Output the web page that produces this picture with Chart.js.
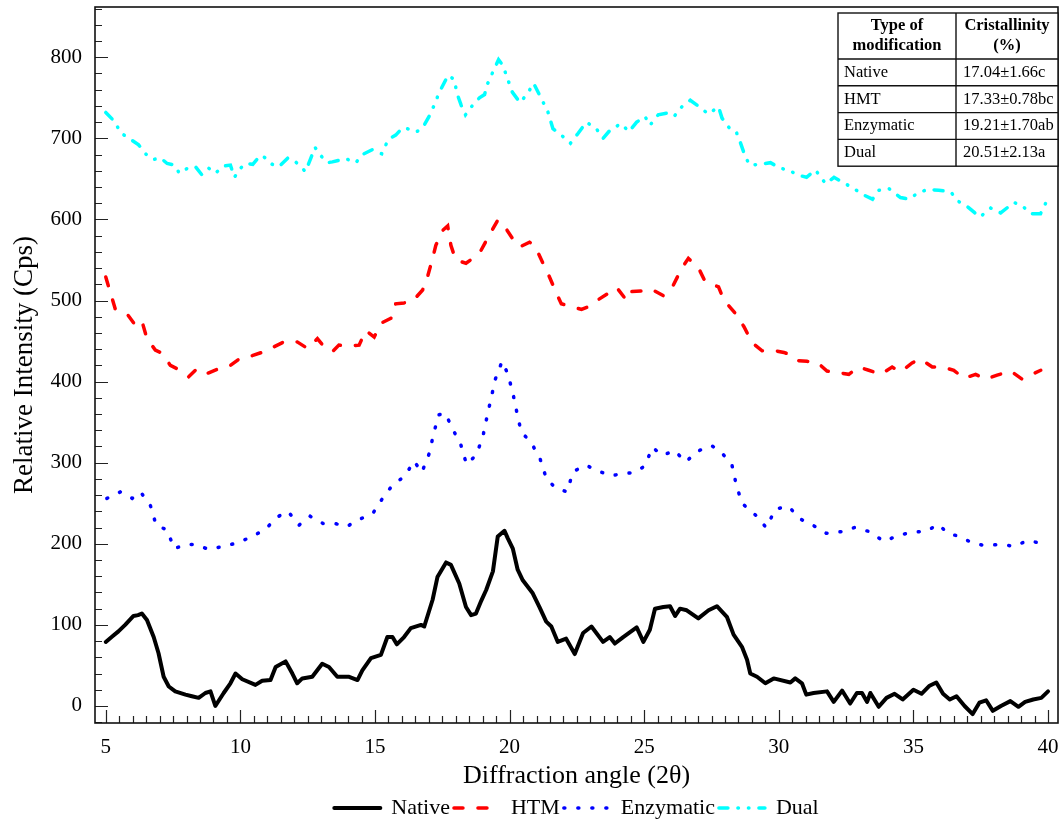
<!DOCTYPE html>
<html lang="en">

<head>
    <meta charset="UTF-8">
    <title>XRD patterns</title>
    <script src="https://cdn.jsdelivr.net/npm/chart.js"></script>
    <style>
        body { margin: 0; background: #fff; }
        #wrap { width: 1062px; height: 823px; }
    </style>
</head>

<body>
    <div id="wrap">
        <canvas id="myChart" width="1062" height="823"></canvas>
    </div>

    <script>
        // 2theta positions and intensities
        const nativeAngle = [5.00, 5.25, 5.47, 5.72, 6.03, 6.20, 6.34, 6.53, 6.78, 6.96, 7.15, 7.34, 7.58, 7.96, 8.20, 8.45, 8.70, 8.89, 9.07, 9.38,
            9.63, 9.82, 10.07, 10.56, 10.81, 11.12, 11.31, 11.68, 11.93, 12.11, 12.30, 12.67, 13.04, 13.29, 13.60, 14.04, 14.35, 14.53, 14.85, 15.22,
            15.46, 15.65, 15.81, 16.08, 16.33, 16.71, 16.83, 17.14, 17.32, 17.64, 17.82, 18.13, 18.38, 18.57, 18.75, 18.95, 19.13, 19.38, 19.56, 19.81,
            19.93, 20.12, 20.30, 20.49, 20.86, 21.11, 21.36, 21.55, 21.79, 22.10, 22.42, 22.73, 23.04, 23.47, 23.72, 23.91, 24.22, 24.72, 24.97, 25.21,
            25.40, 25.71, 25.96, 26.15, 26.33, 26.58, 27.01, 27.39, 27.70, 28.07, 28.32, 28.63, 28.82, 28.94, 29.19, 29.50, 29.81, 30.43, 30.61, 30.86,
            31.02, 31.29, 31.79, 32.04, 32.35, 32.65, 32.90, 33.09, 33.28, 33.40, 33.71, 34.00, 34.30, 34.60, 35.00, 35.30, 35.60, 35.85, 36.10, 36.35,
            36.60, 36.90, 37.20, 37.45, 37.70, 37.95, 38.25, 38.60, 38.90, 39.15, 39.45, 39.75, 40.00];
        const nativeIntensity = [79, 86, 92, 100, 111, 112, 114, 106, 85, 65, 36, 24, 18, 14, 12, 10, 16, 18, 0, 16,
            28, 40, 33, 26, 31, 32, 48, 55, 40, 28, 34, 36, 52, 48, 36, 36, 32, 44, 59, 63,
            85, 85, 76, 85, 96, 100, 98, 131, 159, 177, 174, 151, 122, 112, 114, 130, 143, 166, 209, 216,
            207, 194, 168, 155, 139, 122, 104, 98, 79, 83, 64, 90, 98, 79, 85, 77, 85, 97, 79, 94,
            120, 122, 123, 111, 120, 118, 108, 118, 123, 110, 88, 73, 57, 40, 36, 28, 34, 29, 34, 28,
            14, 16, 18, 5, 19, 3, 16, 16, 5, 16, -1, 10, 15, 8, 20, 15, 25, 29, 15, 8,
            12, 0, -10, 4, 7, -6, 0, 6, -1, 5, 8, 10, 18];

        const htmAngle = [5.00, 5.16, 5.35, 5.78, 6.09, 6.34, 6.53, 6.84, 7.09, 7.40, 7.77, 8.08, 8.39, 8.76, 9.20, 9.63, 10.00, 10.44, 10.88, 11.25,
            11.68, 12.11, 12.49, 12.86, 13.11, 13.42, 13.66, 14.04, 14.41, 14.66, 14.97, 15.22, 15.59, 15.77, 16.08, 16.39, 16.77, 16.95, 17.14, 17.26,
            17.50, 17.70, 17.82, 18.00, 18.38, 18.63, 18.94, 19.25, 19.56, 19.78, 20.12, 20.37, 20.74, 20.93, 21.24, 21.43, 21.74, 21.92, 22.36, 22.67,
            23.04, 23.29, 23.67, 23.98, 24.35, 24.53, 25.03, 25.27, 25.71, 26.08, 26.40, 26.64, 27.02, 27.27, 27.76, 27.95, 28.39, 28.70, 29.01, 29.38,
            29.88, 30.19, 30.43, 30.68, 31.05, 31.42, 31.79, 32.23, 32.60, 32.97, 33.34, 33.78, 34.21, 34.52, 34.95, 35.26, 35.70, 36.07, 36.50, 36.87,
            37.31, 37.68, 38.11, 38.61, 39.04, 39.47, 39.73];
        const htmIntensity = [529, 511, 490, 484, 470, 475, 453, 439, 435, 420, 414, 406, 416, 410, 416, 420, 429, 432, 437, 443,
            450, 449, 441, 453, 443, 437, 445, 444, 445, 463, 455, 472, 478, 496, 497, 499, 513, 529, 552, 568,
            586, 592, 568, 550, 546, 552, 562, 581, 599, 593, 576, 566, 572, 568, 546, 533, 509, 496, 492, 489,
            494, 501, 509, 516, 500, 511, 512, 514, 506, 519, 540, 552, 540, 523, 517, 501, 484, 468, 448, 438,
            438, 436, 433, 426, 425, 424, 413, 411, 409, 418, 414, 409, 418, 412, 423, 428, 418, 418, 414, 404,
            409, 403, 408, 413, 403, 410, 414];

        const enzAngle = [5.04, 5.54, 5.98, 6.29, 6.66, 6.87, 7.28, 7.54, 7.96, 8.33, 8.83, 9.38, 9.88, 10.44, 10.93, 11.37, 11.77, 12.18, 12.59, 13.07,
            13.52, 13.94, 14.35, 14.93, 15.28, 15.62, 16.12, 16.45, 16.74, 17.01, 17.16, 17.36, 17.61, 17.88, 18.19, 18.40, 18.75, 19.00, 19.15, 19.31,
            19.47, 19.72, 19.93, 20.12, 20.27, 20.43, 20.80, 21.14, 21.36, 21.67, 22.13, 22.36, 22.83, 23.27, 23.75, 24.16, 24.62, 25.03, 25.30, 25.68,
            26.12, 26.55, 26.96, 27.51, 27.89, 28.26, 28.41, 28.63, 29.15, 29.53, 29.88, 30.37, 30.77, 31.26, 31.76, 32.32, 32.81, 33.37, 33.90, 34.49,
            34.95, 35.51, 35.92, 36.28, 36.71, 37.19, 37.62, 38.21, 38.77, 39.23, 39.69, 39.85];
        const enzIntensity = [256, 264, 256, 264, 247, 223, 217, 194, 199, 199, 193, 197, 201, 209, 218, 233, 240, 223, 234, 225,
            225, 221, 229, 238, 256, 271, 284, 302, 288, 311, 333, 359, 361, 342, 322, 298, 309, 331, 355, 379,
            403, 425, 410, 386, 362, 338, 325, 304, 281, 270, 264, 289, 297, 290, 284, 286, 288, 296, 319, 309,
            315, 301, 314, 321, 312, 297, 274, 250, 235, 220, 243, 246, 231, 223, 213, 215, 220, 215, 203, 211,
            214, 216, 224, 213, 209, 201, 198, 199, 197, 204, 201, 199];

        const dualAngle = [5.00, 5.35, 5.54, 5.87, 6.22, 6.53, 6.78, 7.03, 7.28, 7.56, 7.73, 8.08, 8.33, 8.57, 8.83, 9.07, 9.38, 9.63, 9.78, 10.00,
            10.19, 10.46, 10.74, 10.99, 11.18, 11.43, 11.77, 12.05, 12.24, 12.42, 12.61, 12.77, 12.98, 13.23, 13.42, 13.91, 14.29, 14.53, 14.90, 15.25,
            15.50, 15.77, 16.02, 16.33, 16.54, 16.77, 17.01, 17.20, 17.39, 17.64, 17.73, 17.95, 18.04, 18.20, 18.36, 18.63, 18.88, 19.07, 19.19, 19.38,
            19.59, 19.75, 19.93, 20.10, 20.39, 20.68, 20.89, 21.18, 21.42, 21.61, 21.92, 22.26, 22.54, 22.85, 23.22, 23.47, 23.78, 24.16, 24.43, 24.72,
            25.03, 25.21, 25.52, 25.84, 26.11, 26.40, 26.71, 26.96, 27.39, 27.76, 27.89, 28.20, 28.42, 28.57, 28.76, 28.92, 29.32, 29.69, 30.06, 30.37,
            30.68, 31.03, 31.36, 31.74, 32.05, 32.42, 32.79, 33.16, 33.48, 33.72, 34.09, 34.52, 34.83, 35.14, 35.51, 35.94, 36.38, 36.69, 37.00, 37.25,
            37.47, 37.87, 38.24, 38.73, 39.04, 39.35, 39.72, 39.94];
        const dualIntensity = [732, 720, 707, 700, 692, 679, 674, 676, 669, 667, 657, 664, 665, 655, 663, 657, 666, 667, 652, 663,
            669, 668, 679, 675, 668, 665, 676, 671, 665, 659, 675, 689, 679, 670, 671, 675, 670, 680, 686, 681,
            699, 704, 713, 711, 708, 713, 727, 741, 757, 773, 778, 772, 756, 741, 729, 741, 750, 754, 768, 782,
            797, 790, 773, 757, 744, 756, 768, 749, 733, 712, 704, 694, 706, 720, 712, 700, 712, 718, 708, 720,
            727, 716, 729, 731, 727, 739, 747, 741, 730, 739, 725, 711, 708, 695, 677, 667, 668, 670, 663, 661,
            655, 652, 661, 644, 652, 645, 638, 630, 625, 636, 638, 627, 625, 632, 637, 636, 634, 622, 616, 609,
            603, 614, 608, 621, 617, 607, 607, 622];

        const seriesNames = ['Native', 'HTM', 'Enzymatic', 'Dual'];

        const xTicks = [5, 10, 15, 20, 25, 30, 35, 40];
        const yTicks = [0, 100, 200, 300, 400, 500, 600, 700, 800];

        // inset table
        const tableHead = [['Type of', 'modification'], ['Cristallinity', '(%)']];
        const tableNames = ['Native', 'HMT', 'Enzymatic', 'Dual'];
        const tableValues = ['17.04\u00b11.66c', '17.33\u00b10.78bc', '19.21\u00b11.70ab', '20.51\u00b12.13a'];

        const serif = "'Liberation Serif', 'Times New Roman', serif";
        Chart.defaults.font.family = serif;
        Chart.defaults.color = '#000';

        const toPoints = (xs, ys) => xs.map((x, i) => ({ x: x, y: ys[i] }));

        // inward ticks + frame, like the original plot
        const frameTicks = {
            id: 'frameTicks',
            beforeDatasetsDraw(chart) {
                const { ctx, chartArea: a, scales: { x, y } } = chart;
                ctx.save();
                ctx.strokeStyle = '#222';
                ctx.lineWidth = 1.2;
                ctx.beginPath();
                for (let i = 0; ; i++) {
                    const v = 4.5 + i * 0.5;
                    if (v > x.max) break;
                    if (v < x.min) continue;
                    const px = Math.round(x.getPixelForValue(v)) + 0.5;
                    const len = xTicks.includes(v) ? 13 : 7;
                    ctx.moveTo(px, a.bottom);
                    ctx.lineTo(px, a.bottom - len);
                }
                for (let i = 0; ; i++) {
                    const v = -20 + i * 20;
                    if (v > y.max) break;
                    if (v < y.min) continue;
                    const py = Math.round(y.getPixelForValue(v)) + 0.5;
                    const len = yTicks.includes(v) ? 13 : 7;
                    ctx.moveTo(a.left, py);
                    ctx.lineTo(a.left + len, py);
                }
                ctx.stroke();
                ctx.strokeStyle = '#111';
                ctx.lineWidth = 1.6;
                ctx.strokeRect(a.left, a.top, a.right - a.left, a.bottom - a.top);
                ctx.restore();
            }
        };

        const insetTable = {
            id: 'insetTable',
            afterDraw(chart) {
                const { ctx, chartArea: a } = chart;
                const right = a.right, left = right - 220, mid = left + 118;
                const top = a.top + 6, headH = 46, rowH = 26.8;
                const bottom = top + headH + rowH * tableNames.length;
                ctx.save();
                ctx.fillStyle = '#fff';
                ctx.fillRect(left, top, right - left, bottom - top);
                ctx.strokeStyle = '#111';
                ctx.lineWidth = 1.4;
                ctx.strokeRect(left, top, right - left, bottom - top);
                ctx.beginPath();
                ctx.moveTo(mid, top);
                ctx.lineTo(mid, bottom);
                for (let i = 0; i < tableNames.length; i++) {
                    const yy = top + headH + rowH * i;
                    ctx.moveTo(left, yy);
                    ctx.lineTo(right, yy);
                }
                ctx.stroke();

                ctx.fillStyle = '#000';
                ctx.textBaseline = 'middle';
                ctx.textAlign = 'center';
                ctx.font = 'bold 16.5px ' + serif;
                const centers = [(left + mid) / 2, (mid + right) / 2];
                tableHead.forEach((lines, c) => {
                    lines.forEach((t, k) => ctx.fillText(t, centers[c], top + 13 + k * 20));
                });
                ctx.textAlign = 'left';
                ctx.font = '16.5px ' + serif;
                tableNames.forEach((t, i) => {
                    const yy = top + headH + rowH * i + rowH / 2;
                    ctx.fillText(t, left + 6, yy);
                    ctx.fillText(tableValues[i], mid + 7, yy);
                });
                ctx.restore();
            }
        };

        // legend samples keep the dataset's dash pattern
        const legendLabels = chart => {
            const items = Chart.defaults.plugins.legend.labels.generateLabels(chart);
            return items.map((item, i) => {
                const ds = chart.data.datasets[i];
                item.lineDash = ds.borderDash || [];
                item.lineCap = 'round';
                item.lineWidth = ds.borderWidth;
                item.strokeStyle = ds.borderColor;
                item.fillStyle = ds.borderColor;
                return item;
            });
        };

        const ctx = document.getElementById('myChart');
        const myChart = new Chart(ctx, {
            type: 'line',
            data: {
                datasets: [
                    {
                        label: seriesNames[0],
                        data: toPoints(nativeAngle, nativeIntensity),
                        borderColor: '#000000',
                        borderWidth: 4,
                        borderJoinStyle: 'round',
                        borderCapStyle: 'round'
                    },
                    {
                        label: seriesNames[1],
                        data: toPoints(htmAngle, htmIntensity),
                        borderColor: '#ff0000',
                        borderWidth: 3.5,
                        borderDash: [9, 15],
                        borderCapStyle: 'round'
                    },
                    {
                        label: seriesNames[2],
                        data: toPoints(enzAngle, enzIntensity),
                        borderColor: '#0000ff',
                        borderWidth: 3.5,
                        borderDash: [1, 13],
                        borderCapStyle: 'round'
                    },
                    {
                        label: seriesNames[3],
                        data: toPoints(dualAngle, dualIntensity),
                        borderColor: '#00ffff',
                        borderWidth: 3.5,
                        borderDash: [9, 10, 0.5, 10, 0.5, 10],
                        borderCapStyle: 'round'
                    }
                ]
            },
            options: {
                responsive: false,
                animation: false,
                devicePixelRatio: 1,
                layout: { padding: { top: 7, right: 4, left: 0, bottom: 0 } },
                elements: {
                    point: { radius: 0 },
                    line: { tension: 0, fill: false }
                },
                plugins: {
                    tooltip: { enabled: false },
                    legend: {
                        position: 'bottom',
                        fullSize: false,
                        maxHeight: 30,
                        labels: {
                            usePointStyle: true,
                            pointStyle: 'line',
                            pointStyleWidth: 46,
                            padding: 4,
                            color: '#000',
                            font: { size: 22, family: serif },
                            generateLabels: legendLabels
                        }
                    }
                },
                scales: {
                    x: {
                        type: 'linear',
                        min: 4.6,
                        max: 40.37,
                        afterBuildTicks: s => { s.ticks = xTicks.map(v => ({ value: v })); },
                        afterFit: s => { s.height = 70; s.paddingLeft = 0; s.paddingRight = 0; },
                        grid: { display: false, drawTicks: false },
                        border: { display: false },
                        ticks: { padding: 12, color: '#000', font: { size: 21 } },
                        title: {
                            display: true,
                            text: 'Diffraction angle (2\u03b8)',
                            color: '#000',
                            font: { size: 26, lineHeight: 1 },
                            padding: { top: 0, bottom: 4 }
                        }
                    },
                    y: {
                        type: 'linear',
                        min: -21,
                        max: 862,
                        afterBuildTicks: s => { s.ticks = yTicks.map(v => ({ value: v })); },
                        afterFit: s => { s.width = 95; s.paddingTop = 0; s.paddingBottom = 0; },
                        grid: { display: false, drawTicks: false },
                        border: { display: false },
                        ticks: { padding: 13, color: '#000', font: { size: 21 } },
                        title: {
                            display: true,
                            text: 'Relative Intensity (Cps)',
                            color: '#000',
                            font: { size: 27, lineHeight: 1.2 },
                            padding: { top: 9, bottom: 0 }
                        }
                    }
                }
            },
            plugins: [frameTicks, insetTable]
        });
    </script>
</body>

</html>
